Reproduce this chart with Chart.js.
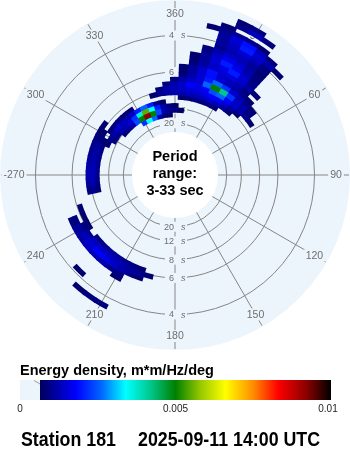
<!DOCTYPE html>
<html><head><meta charset="utf-8">
<script src="https://cdn.jsdelivr.net/npm/chart.js@4.4.1/dist/chart.umd.min.js"></script>
<style>html,body{margin:0;padding:0;background:#fff;}canvas{display:block;}</style>
</head><body>
<canvas id="c" width="350" height="450"></canvas>
<script>
// ---------------- data ----------------
const ringPeriods = [4, 6, 8, 12, 20];                       // s
const spokeDirections = [0, 30, 60, 90, 120, 150, 180, 210, 240, 270, 300, 330];
const spokeLabels = ['360', '30', '60', '90', '120', '150', '180', '210', '240', '-270', '300', '330'];
const periodRange = [3, 33];                                 // s
const colorbarTicks = [0, 0.005, 0.01];
const colorbarTickLabels = ['0', '0.005', '0.01'];
const stationName = 'Station 181';
const timeStamp = '2025-09-11 14:00 UTC';
const colorbarTitle = 'Energy density, m*m/Hz/deg';

// sparse directional spectrum: each run = one frequency row, starting direction, values every 5 deg
const energyUnit = 1e-4;   // m*m/Hz/deg
const dirStep = 5;         // deg
const freqStep = 0.01;     // Hz
const runFreq = [
  0.07, 0.08, 0.09, 0.10,
  0.11, 0.11, 0.11,
  0.12, 0.12,
  0.13, 0.13,
  0.14, 0.15,
  0.16, 0.16, 0.16,
  0.17, 0.17,
  0.18, 0.18,
  0.19, 0.19,
  0.20, 0.20,
  0.21, 0.22, 0.23,
  0.24, 0.24,
  0.25, 0.26,
  0.27, 0.27,
  0.28, 0.29, 0.30, 0.31
];
const runDirStart = [
  330, 310, 300, 295,
  260, 305, 5,
  260, 345,
  260, 350,
  355, 0,
  200, 240, 5,
  195, 5,
  200, 5,
  210, 10,
  210, 10,
  10, 15, 15,
  225, 20,
  20, 20,
  210, 20,
  15, 20, 25, 25
];
const runEnergy = [
  [22, 34, 26, 12, 8, 7],
  [8, 10, 12, 24, 50, 92, 50, 24, 12, 10, 9, 7],
  [9, 10, 12, 13, 15, 22, 36, 55, 34, 20, 12, 9, 7],
  [8, 10, 12, 14, 13, 12, 14, 20, 26, 20, 10, 7],
  [8, 9, 10, 10, 10, 10, 9, 8],
  [8, 9, 9, 8, 8],
  [8, 9, 9, 9, 9, 8],
  [10, 12, 13, 13, 12, 12, 11, 9, 8],
  [8, 10, 11, 12, 12, 13, 13, 13, 14, 13, 11, 8],
  [9, 11, 12, 12, 11, 10, 10, 9, 8, 8],
  [9, 12, 13, 14, 15, 15, 16, 18, 17, 14, 11, 8],
  [9, 12, 14, 18, 16, 18, 24, 26, 18, 14, 12, 10, 8],
  [9, 12, 14, 15, 26, 50, 42, 22, 14, 12, 9],
  [8, 9, 10, 11, 11, 10, 9],
  [8, 8, 8],
  [9, 12, 15, 20, 26, 22, 15, 12, 10, 8],
  [8, 10, 11, 12, 13, 14, 14, 13, 11, 9],
  [8, 11, 15, 19, 15, 13, 12, 10, 8],
  [8, 10, 12, 14, 16, 18, 15, 13, 11, 9],
  [8, 11, 14, 19, 14, 13, 12, 9],
  [9, 10, 12, 13, 13, 12, 11, 9],
  [9, 12, 14, 15, 16, 14, 11, 8],
  [8],
  [8, 11, 14, 16, 20, 15, 10],
  [8, 11, 15, 20, 17, 13, 9],
  [10, 14, 17, 15, 12, 9],
  [9, 12, 14, 13, 11, 8],
  [8],
  [10, 12, 13, 11, 9],
  [11, 13, 15, 13, 9],
  [11, 14, 20, 15, 12, 8],
  [9, 9, 8],
  [11, 15, 19, 13, 9],
  [8, 10, 11, 10, 8],
  [8],
  [10, 13, 9],
  [8, 9]
];

// ---------------- geometry / style ----------------
const radialOffset = 0.06777;          // radius is proportional to (frequency + offset)
const R = 175 / 439;                   // scale half-range in the same units
const DEG = Math.PI / 180;
const discColor = '#edf5fc';
const gridColor = '#858585';
const labelColor = '#6e6e6e';
const energyThreshold = 0.00064;
const cmapStops = [
  [0.00064, [0, 0, 90]], [0.0018, [0, 0, 255]], [0.0026, [0, 100, 255]],
  [0.0034, [0, 255, 255]], [0.0042, [0, 200, 140]], [0.005, [0, 128, 0]],
  [0.0058, [150, 200, 0]], [0.0066, [255, 255, 0]], [0.0075, [255, 140, 0]],
  [0.0083, [255, 0, 0]], [0.0092, [140, 0, 0]], [0.01, [0, 0, 0]]
];
function colorFor(v) {
  if (v <= cmapStops[0][0]) return 'rgb(0,0,90)';
  for (let i = 1; i < cmapStops.length; i++) {
    if (v <= cmapStops[i][0]) {
      const [v0, c0] = cmapStops[i - 1], [v1, c1] = cmapStops[i];
      const t = (v - v0) / (v1 - v0);
      return 'rgb(' + c0.map((c, k) => Math.round(c + (c1[k] - c) * t)).join(',') + ')';
    }
  }
  return 'rgb(0,0,0)';
}

// build cells from the runs
const cells = [];
runFreq.forEach((f, i) => {
  runEnergy[i].forEach((e, j) => {
    const d = (runDirStart[i] + j * dirStep) % 360;
    const rr = f + radialOffset;
    cells.push({ x: rr * Math.sin(d * DEG), y: rr * Math.cos(d * DEG), f: f, d: d, e: e * energyUnit });
  });
});
// draw low values first so the peaks stay on top
cells.sort((a, b) => a.e - b.e);

function geom(chart) {
  const xs = chart.scales.x, ys = chart.scales.y;
  const cx = xs.getPixelForValue(0), cy = ys.getPixelForValue(0);
  const k = xs.getPixelForValue(1) - cx;
  return { xs, ys, cx, cy, k, rOf: f => k * (f + radialOffset) };
}

const FONT = '"Liberation Sans", Arial, Helvetica, sans-serif';

const polarPlugin = {
  id: 'polarSpectrum',
  beforeDatasetsDraw(chart) {
    const ctx = chart.ctx;
    const g = geom(chart);
    const rIn = g.rOf(1 / periodRange[1]);
    const rOut = g.k * R;
    ctx.save();
    ctx.fillStyle = discColor;
    ctx.beginPath(); ctx.arc(g.cx, g.cy, rOut, 0, 2 * Math.PI); ctx.fill();
    ctx.strokeStyle = gridColor; ctx.lineWidth = 1;
    ringPeriods.forEach(p => {
      ctx.beginPath(); ctx.arc(g.cx, g.cy, g.rOf(1 / p), 0, 2 * Math.PI); ctx.stroke();
    });
    spokeDirections.forEach(d => {
      const s = Math.sin(d * DEG), c = Math.cos(d * DEG);
      ctx.beginPath();
      ctx.moveTo(g.cx + rIn * s, g.cy - rIn * c);
      ctx.lineTo(g.cx + (rOut - 1) * s, g.cy - (rOut - 1) * c);
      ctx.stroke();
    });
    ctx.fillStyle = '#ffffff';
    ctx.beginPath(); ctx.arc(g.cx, g.cy, rIn, 0, 2 * Math.PI); ctx.fill();
    ctx.font = '10.5px ' + FONT;
    ctx.textAlign = 'center'; ctx.textBaseline = 'middle';
    spokeDirections.forEach((d, i) => {
      const rl = 161;
      const x = g.cx + rl * Math.sin(d * DEG), y = g.cy - rl * Math.cos(d * DEG);
      const w = ctx.measureText(spokeLabels[i]).width;
      ctx.fillStyle = discColor;
      ctx.fillRect(x - w / 2 - 2, y - 6, w + 4, 12);
      ctx.fillStyle = labelColor;
      ctx.fillText(spokeLabels[i], x, y + 0.5);
    });
    ringPeriods.forEach(p => {
      const r = g.rOf(1 / p);
      [g.cy - r, g.cy + r].forEach(y => {
        ctx.font = '9px ' + FONT;
        const num = String(p);
        const w = ctx.measureText(num).width;
        ctx.fillStyle = discColor;
        ctx.fillRect(g.cx - 1 - w - 4, y - 5, w + 17, 10);
        ctx.fillStyle = labelColor;
        ctx.textAlign = 'right'; ctx.textBaseline = 'middle';
        ctx.fillText(num, g.cx - 1, y + 0.5);
        ctx.font = 'italic 9px ' + FONT;
        ctx.textAlign = 'left';
        ctx.fillText('s', g.cx + 6, y + 0.5);
      });
    });
    ctx.restore();
  },
  afterDatasetsDraw(chart) {
    const ctx = chart.ctx;
    const g = geom(chart);
    ctx.save();
    // spectrum cells (slightly overlapped so no seams appear)
    const data = chart.data.datasets[0].data;
    const padA = 0.45, padR = 0.45;
    data.forEach(c => {
      if (c.e < energyThreshold) return;
      const r1 = g.rOf(c.f - freqStep / 2) - padR, r2 = g.rOf(c.f + freqStep / 2) + padR;
      const a1 = (c.d - dirStep / 2 - padA - 90) * DEG, a2 = (c.d + dirStep / 2 + padA - 90) * DEG;
      ctx.fillStyle = colorFor(c.e);
      ctx.beginPath();
      ctx.arc(g.cx, g.cy, r2, a1, a2);
      ctx.arc(g.cx, g.cy, r1, a2, a1, true);
      ctx.closePath(); ctx.fill();
    });
    // centre text
    ctx.fillStyle = '#000';
    ctx.font = 'bold 14.5px ' + FONT;
    ctx.textAlign = 'center'; ctx.textBaseline = 'alphabetic';
    ['Period', 'range:', periodRange[0] + '-' + periodRange[1] + ' sec'].forEach((t, i) => {
      ctx.fillText(t, g.cx, 160.5 + i * 17);
    });
    // colour bar
    const bx0 = 20, bx1 = 331, by = 380, bh = 20;
    ctx.font = 'bold 14.5px ' + FONT;
    ctx.textAlign = 'left';
    ctx.fillText(colorbarTitle, 20, 375);
    const vmax = colorbarTicks[colorbarTicks.length - 1];
    for (let x = bx0; x < bx1; x++) {
      const v = (x + 0.5 - bx0) / (bx1 - bx0) * vmax;
      ctx.fillStyle = v < energyThreshold ? discColor : colorFor(v);
      ctx.fillRect(x, by, 1, bh);
    }
    ctx.strokeStyle = '#888'; ctx.lineWidth = 0.8;
    ctx.beginPath(); ctx.moveTo(34, 380.5); ctx.lineTo(40, 384); ctx.stroke();
    ctx.fillStyle = '#222';
    ctx.font = '10px ' + FONT;
    ctx.textAlign = 'center';
    colorbarTicks.forEach((v, i) => {
      let x = bx0 + v / vmax * (bx1 - bx0);
      if (i === colorbarTicks.length - 1) x -= 3;
      ctx.fillText(colorbarTickLabels[i], x, 411.5);
    });
    // footer
    ctx.fillStyle = '#000';
    ctx.font = 'bold 20px ' + FONT;
    ctx.textAlign = 'left';
    ctx.save(); ctx.translate(21, 445.5); ctx.scale(0.89, 1); ctx.fillText(stationName, 0, 0); ctx.restore();
    ctx.save(); ctx.translate(138, 445.5); ctx.scale(0.89, 1); ctx.fillText(timeStamp, 0, 0); ctx.restore();
    ctx.restore();
  }
};

new Chart(document.getElementById('c').getContext('2d'), {
  type: 'scatter',
  data: { datasets: [{ data: cells, pointRadius: 0, pointHoverRadius: 0, showLine: false }] },
  options: {
    responsive: false, animation: false, events: [],
    layout: { padding: { left: 0, right: 0, top: 0, bottom: 100 } },
    plugins: { legend: { display: false }, tooltip: { enabled: false }, title: { display: false } },
    scales: {
      x: { type: 'linear', min: -R, max: R, display: false },
      y: { type: 'linear', min: -R, max: R, display: false }
    }
  },
  plugins: [polarPlugin]
});
</script>
</body></html>
